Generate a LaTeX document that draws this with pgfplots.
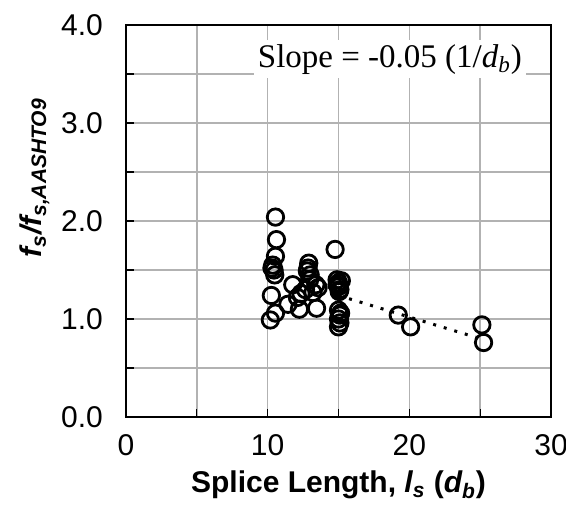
\documentclass[border=0pt]{standalone}
\usepackage{pgfplots}
\pgfplotsset{compat=1.18}
\usepackage{fontspec}
\setmainfont{Liberation Serif}
\setsansfont{Liberation Sans}
\begin{document}
\begin{tikzpicture}
\useasboundingbox (-63pt,-54pt) rectangle (220pt,208.5pt);
\begin{axis}[
  at={(0,0)}, anchor=south west,
  scale only axis, width=212.5pt, height=196pt,
  xmin=0, xmax=30, ymin=0, ymax=4,
  xtick={0,10,20,30}, minor xtick={5,15,25},
  ytick={0,1,2,3,4}, minor ytick={0.5,1.5,2.5,3.5},
  xticklabels={0,10,20,30},
  yticklabels={0.0,1.0,2.0,3.0,4.0},
  ticklabel style={font=\sffamily\fontsize{15}{17}\selectfont},
  xmajorgrids, ymajorgrids, xminorgrids, yminorgrids,
  major grid style={draw=black!30, line width=0.7pt},
  minor grid style={draw=black!30, line width=0.7pt},
  tick align=inside, xtick pos=bottom, ytick pos=left,
  major tick length=4pt, minor tick length=4pt,
  tick style={black, line width=0.6pt},
  axis line style={line width=1pt},
  xticklabel style={yshift=-5pt},
  yticklabel style={xshift=-8pt},
  xlabel={\textbf{Splice Length, \textit{l\textsubscript{s}} (\textit{d\textsubscript{b}})}},
  xlabel style={font=\sffamily\fontsize{15}{17}\selectfont, yshift=-1pt},
  ylabel={\textbf{\textit{f\textsubscript{s}/f\textsubscript{s,AASHTO9}}}},
  ylabel style={font=\sffamily\fontsize{15}{17}\selectfont, at={(ticklabel cs:0.61)}, yshift=-1pt},
  clip=false,
]
\addplot[only marks, mark=o, mark size=4.1pt, mark options={line width=1.4pt, black}] coordinates {
(10.55,2.04) (10.62,1.81) (10.55,1.64) (10.36,1.55) (10.45,1.50) (10.3,1.52) (10.5,1.45)
(10.26,1.24) (10.55,1.06) (10.19,0.99)
(11.77,1.35) (11.43,1.15) (12.24,1.10) (12.35,1.26) (12.1,1.22)
(12.9,1.57) (12.85,1.52) (12.8,1.49) (13.0,1.45) (12.96,1.40) (12.67,1.30) (13.2,1.27)
(13.4,1.35) (13.56,1.32) (13.45,1.11)
(14.76,1.71)
(14.9,1.40) (15.0,1.37) (15.0,1.33) (15.1,1.30) (14.9,1.35) (15.2,1.39) (15.05,1.28)
(15.0,1.09) (15.1,1.04) (15.0,1.00) (15.1,0.96) (15.0,0.92) (15.15,1.06)
(19.22,1.04) (20.09,0.92)
(25.12,0.94) (25.24,0.76)
};
\addplot[black, line width=1.5pt, dash pattern=on 1.5pt off 4pt] coordinates {(15,1.24) (25,0.80)};
\node[fill=white, inner sep=2pt, font=\fontsize{16.5}{18}\selectfont] at (axis cs:18.63,3.65) {Slope = -0.05 (1/\textit{d\textsubscript{b}})};
\end{axis}
\end{tikzpicture}
\end{document}
